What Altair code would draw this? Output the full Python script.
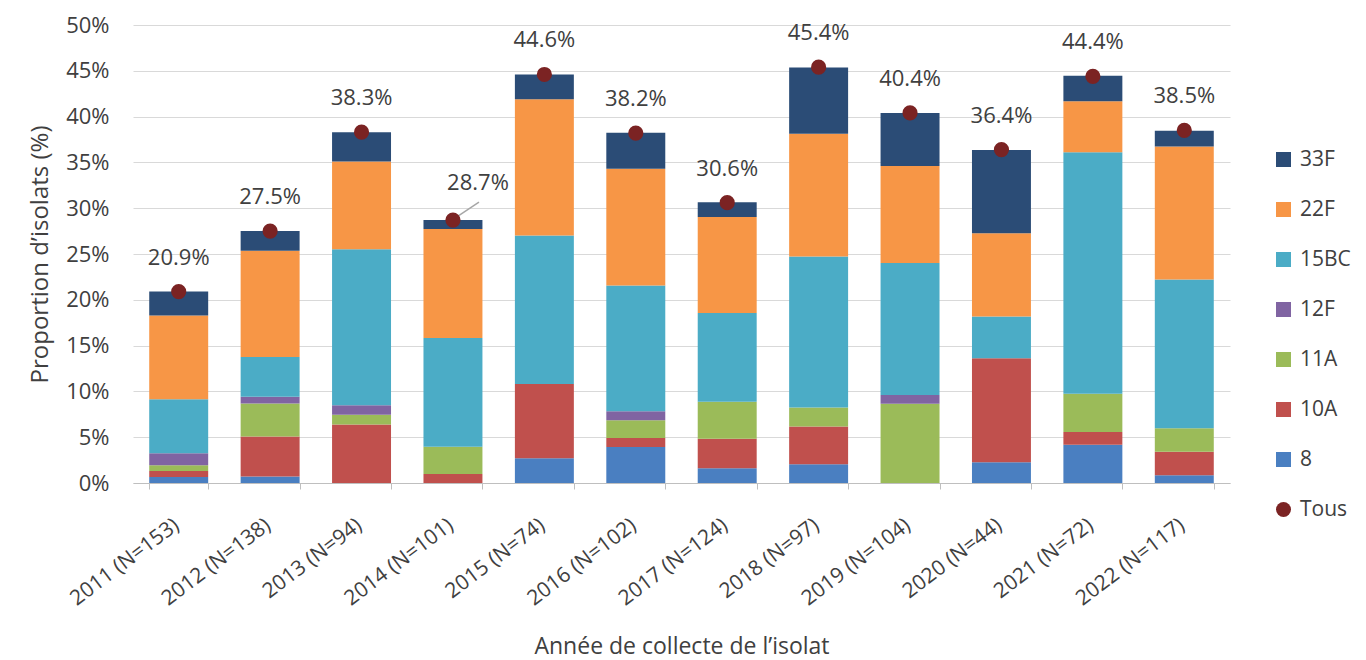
import altair as alt
import pandas as pd

# Collection years with sample sizes
years = ["2011 (N=153)", "2012 (N=138)", "2013 (N=94)", "2014 (N=101)",
         "2015 (N=74)", "2016 (N=102)", "2017 (N=124)", "2018 (N=97)",
         "2019 (N=104)", "2020 (N=44)", "2021 (N=72)", "2022 (N=117)"]

# Share of isolates (%) per serotype, one value per year
s8 = [0.65, 0.72, 0.00, 0.00, 2.70, 3.92, 1.61, 2.06, 0.00, 2.27, 4.17, 0.85]
s10A = [0.65, 4.35, 6.38, 0.99, 8.11, 0.98, 3.23, 4.12, 0.00, 11.36, 1.39, 2.56]
s11A = [0.65, 3.62, 1.06, 2.97, 0.00, 1.96, 4.03, 2.06, 8.65, 0.00, 4.17, 2.56]
s12F = [1.31, 0.72, 1.06, 0.00, 0.00, 0.98, 0.00, 0.00, 0.96, 0.00, 0.00, 0.00]
s15BC = [5.88, 4.35, 17.02, 11.88, 16.22, 13.73, 9.68, 16.49, 14.42, 4.55, 26.39, 16.24]
s22F = [9.15, 11.59, 9.57, 11.88, 14.86, 12.75, 10.48, 13.40, 10.58, 9.09, 5.56, 14.53]
s33F = [2.61, 2.17, 3.19, 0.99, 2.70, 3.92, 1.61, 7.22, 5.77, 9.09, 2.77, 1.71]

# Combined share of all serotypes above
totals = [20.9, 27.5, 38.3, 28.7, 44.6, 38.2, 30.6, 45.4, 40.4, 36.4, 44.4, 38.5]

# Stack order, bottom to top
stack_order = ["8", "10A", "11A", "12F", "15BC", "22F", "33F"]
series = [s8, s10A, s11A, s12F, s15BC, s22F, s33F]

legend_order = ["33F", "22F", "15BC", "12F", "11A", "10A", "8", "Tous"]
legend_colors = ["#2B4C76", "#F79646", "#4BACC6", "#8064A2", "#9BBB59",
                 "#C0504D", "#4A7FC1", "#7B2323"]
legend_shapes = ["square"] * 7 + ["circle"]

rows = []
for k, (name, vals) in enumerate(zip(stack_order, series)):
    for yr, v in zip(years, vals):
        if v > 0:
            rows.append({"annee": yr, "serotype": name, "pct": v, "rang": k})
bars_df = pd.DataFrame(rows)

tot_df = pd.DataFrame({"annee": years, "total": totals, "serie": ["Tous"] * len(years)})
tot_df["etiquette"] = tot_df["total"].map(lambda v: f"{v:.1f}%")

FONT = "Open Sans"
TXT = "#404040"

color_scale = alt.Scale(domain=legend_order, range=legend_colors)
shape_scale = alt.Scale(domain=legend_order, range=legend_shapes)

x_enc = alt.X(
    "annee:N", sort=years, title="Année de collecte de l’isolat",
    scale=alt.Scale(paddingInner=0.355, paddingOuter=0.1775),
    axis=alt.Axis(labelAngle=-37, labelAlign="right", labelBaseline="top",
                  labelFontSize=21, labelColor=TXT, labelPadding=25,
                  labelOffset=-9,
                  domainColor="#BFBFBF", tickColor="#BFBFBF", tickSize=6,
                  tickBand="extent", grid=False, titleFontSize=23,
                  titleFontWeight="normal", titleColor=TXT, titlePadding=27),
)

y_axis = alt.Axis(values=list(range(0, 51, 5)), labelExpr="datum.value + '%'",
                  grid=True, gridColor="#D9D9D9", domain=False, ticks=False,
                  labelFontSize=22, labelColor=TXT, labelPadding=24,
                  title="Proportion d’isolats (%)", titleFontSize=24,
                  titleFontWeight="normal", titleColor=TXT, titlePadding=13)

bars = alt.Chart(bars_df).mark_bar().encode(
    x=x_enc,
    y=alt.Y("pct:Q", stack="zero", scale=alt.Scale(domain=[0, 50], nice=False),
            axis=y_axis),
    color=alt.Color("serotype:N", scale=color_scale, legend=alt.Legend(
        title=None, orient="none", legendX=1140, legendY=124,
        labelFontSize=21, labelColor=TXT, labelFont=FONT,
        symbolSize=225, rowPadding=28, padding=0, labelOffset=6)),
    order=alt.Order("rang:Q", sort="ascending"),
)

dots = alt.Chart(tot_df).mark_point(filled=True, opacity=1, size=230).encode(
    x=alt.X("annee:N", sort=years),
    y=alt.Y("total:Q"),
    color=alt.Color("serie:N", scale=color_scale),
    shape=alt.Shape("serie:N", scale=shape_scale, legend=alt.Legend(title=None)),
)

labels = alt.Chart(tot_df).transform_filter(
    alt.datum.annee != "2014 (N=101)"
).mark_text(dy=-34, fontSize=22, color=TXT, font=FONT).encode(
    x=alt.X("annee:N", sort=years),
    y=alt.Y("total:Q"),
    text="etiquette:N",
)

label_2014 = alt.Chart(tot_df).transform_filter(
    alt.datum.annee == "2014 (N=101)"
).mark_text(dx=25, dy=-37, fontSize=22, color=TXT, font=FONT).encode(
    x=alt.X("annee:N", sort=years),
    y=alt.Y("total:Q"),
    text="etiquette:N",
)

leader = alt.Chart(tot_df).transform_filter(
    alt.datum.annee == "2014 (N=101)"
).mark_rule(color="#A6A6A6", strokeWidth=1.5, xOffset=2, x2Offset=26,
            yOffset=-2, y2Offset=-18).encode(
    x=alt.X("annee:N", sort=years),
    x2=alt.X2("annee"),
    y=alt.Y("total:Q"),
    y2=alt.Y2("total"),
)

chart = alt.layer(bars, leader, dots, labels, label_2014).properties(
    width=1097, height=458,
    autosize=alt.AutoSizeParams(type="none"),
    padding={"left": 133, "top": 25, "right": 136, "bottom": 177},
).configure(font=FONT).configure_view(stroke=None)

chart.save("out.html", embed_options={"renderer": "svg", "actions": False})
